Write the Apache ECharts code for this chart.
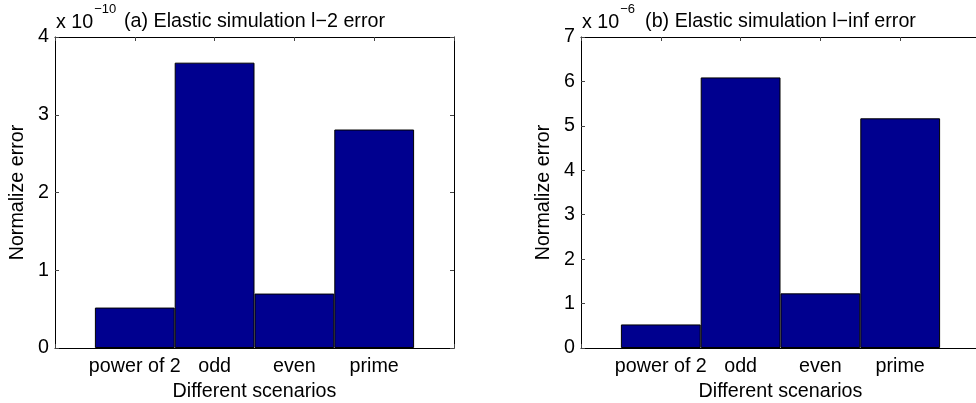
<!DOCTYPE html>
<html>
<head>
<meta charset="utf-8">
<script src="https://cdn.jsdelivr.net/npm/echarts@6/dist/echarts.min.js"></script>
<style>
html,body{margin:0;padding:0;background:#fff;}
#chart{width:976px;height:403px;}
</style>
</head>
<body>
<div id="chart"></div>
<script>
// ---- data ----
var categories = ['power of 2', 'odd', 'even', 'prime'];
var l2Error = [0.52, 3.67, 0.70, 2.81];      // x 1e-10
var linfError = [0.53, 6.09, 1.23, 5.17];    // x 1e-6
var l2Ticks = [0, 1, 2, 3, 4];
var linfTicks = [0, 1, 2, 3, 4, 5, 6, 7];
var titleA = '(a) Elastic simulation l\u22122 error';
var titleB = '(b) Elastic simulation l\u2212inf error';
var yName = 'Normalize error';
var xName = 'Different scenarios';
var expA = '\u221210';
var expB = '\u22126';

var FONT = '"Liberation Sans", Arial, Helvetica, sans-serif';
var FS = 19.7;
var SUP = 13;
var BAR = '#00008F';

var grids = [
  {left: 55, top: 37, width: 399, height: 311, containLabel: false, outerBoundsMode: 'none'},
  {left: 581, top: 37, width: 399, height: 311, containLabel: false, outerBoundsMode: 'none'}
];
var xMin = 0, xMax = categories.length + 1;

function toPairs(vals) {
  return vals.map(function (v, i) { return [i + 1, v]; });
}

function lineStyle() { return {color: '#000', width: 1}; }
function tickStyle() { return {show: true, inside: true, length: 4, lineStyle: {color: '#444', width: 1}}; }

function xAxes(gi) {
  return [
    {
      type: 'value', gridIndex: gi, position: 'bottom', min: xMin, max: xMax, interval: 1,
      axisLine: {show: true, onZero: false, lineStyle: lineStyle()},
      axisTick: tickStyle(),
      splitLine: {show: false},
      axisLabel: {
        margin: 9, color: '#000', fontFamily: FONT, fontSize: FS,
        formatter: function (v) { return categories[v - 1] || ''; }
      },
      name: xName, nameLocation: 'middle', nameGap: 34,
      nameTextStyle: {color: '#000', fontFamily: FONT, fontSize: FS}
    },
    {
      type: 'value', gridIndex: gi, position: 'top', min: xMin, max: xMax, interval: 1,
      axisLine: {show: true, onZero: false, lineStyle: lineStyle()},
      axisTick: tickStyle(),
      splitLine: {show: false},
      axisLabel: {show: false}
    }
  ];
}

function yAxes(gi, ticks) {
  var max = ticks[ticks.length - 1];
  return [
    {
      type: 'value', gridIndex: gi, position: 'left', min: ticks[0], max: max, interval: 1,
      axisLine: {show: true, onZero: false, lineStyle: lineStyle()},
      axisTick: tickStyle(),
      splitLine: {show: false},
      axisLabel: {margin: 6, color: '#000', fontFamily: FONT, fontSize: FS},
      name: yName, nameLocation: 'middle', nameGap: 27,
      nameTextStyle: {color: '#000', fontFamily: FONT, fontSize: FS}
    },
    {
      type: 'value', gridIndex: gi, position: 'right', min: ticks[0], max: max, interval: 1,
      axisLine: {show: true, onZero: false, lineStyle: lineStyle()},
      axisTick: tickStyle(),
      splitLine: {show: false},
      axisLabel: {show: false}
    }
  ];
}

function barSeries(vals, axisIdx, gi) {
  return {
    type: 'bar',
    xAxisIndex: axisIdx, yAxisIndex: axisIdx,
    data: toPairs(vals),
    barWidth: grids[gi].width / (xMax - xMin),
    itemStyle: {color: BAR, borderColor: '#000', borderWidth: 1},
    silent: true,
    animation: false
  };
}

var measureCtx = document.createElement('canvas').getContext('2d');
function textWidth(str, size) {
  measureCtx.font = size + 'px ' + FONT;
  return measureCtx.measureText(str).width;
}

function expTexts(g, exp) {
  var base = 'x 10';
  var w = textWidth(base, FS);
  return [
    {type: 'text', x: g.left + 1, y: 12.5, style: {text: base, fill: '#000', font: FS + 'px ' + FONT}},
    {type: 'text', x: g.left + 1 + w + 1, y: 3, style: {text: exp, fill: '#000', font: SUP + 'px ' + FONT}}
  ];
}

var chart = echarts.init(document.getElementById('chart'), null, {renderer: 'canvas'});
chart.setOption({
  animation: false,
  backgroundColor: '#fff',
  title: [
    {text: titleA, left: grids[0].left + grids[0].width / 2, top: 22, textAlign: 'center', textVerticalAlign: 'middle', padding: 0,
     textStyle: {color: '#000', fontFamily: FONT, fontSize: FS, fontWeight: 'normal'}},
    {text: titleB, left: grids[1].left + grids[1].width / 2, top: 22, textAlign: 'center', textVerticalAlign: 'middle', padding: 0,
     textStyle: {color: '#000', fontFamily: FONT, fontSize: FS, fontWeight: 'normal'}}
  ],
  grid: grids,
  xAxis: xAxes(0).concat(xAxes(1)),
  yAxis: yAxes(0, l2Ticks).concat(yAxes(1, linfTicks)),
  series: [
    barSeries(l2Error, 0, 0),
    barSeries(linfError, 2, 1)
  ],
  graphic: expTexts(grids[0], expA).concat(expTexts(grids[1], expB))
});
</script>
</body>
</html>
